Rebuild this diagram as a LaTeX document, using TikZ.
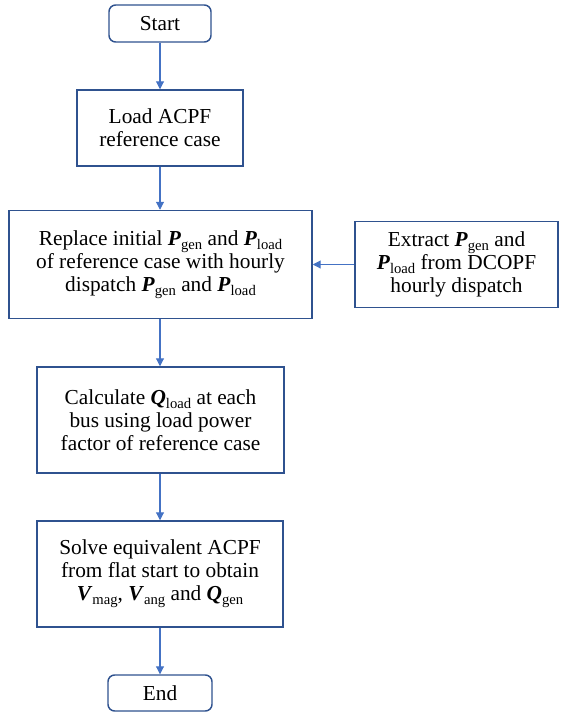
\documentclass[tikz,border=0pt]{standalone}
\usepackage{fontspec}
\setmainfont{Liberation Serif}
\newfontfamily\boxfont{Liberation Serif}
\usetikzlibrary{arrows.meta}
\definecolor{boxline}{RGB}{47,82,143}
\definecolor{flowline}{RGB}{68,114,196}
% bold italic variable with a lowered roman subscript
\newcommand{\var}[2]{\textbf{\textit{#1}}\raisebox{-0.4ex}{\fontsize{11pt}{11pt}\selectfont #2}}
\tikzset{
  procbox/.style={draw=boxline, line width=1.1pt, fill=white, align=center,
    font=\boxfont\fontsize{16pt}{17.2pt}\selectfont, inner sep=2pt},
  termbox/.style={procbox, rounded corners=5pt},
  flow/.style={draw=flowline, line width=0.8pt,
    -{Triangle[length=6pt,width=6pt]}}
}
\begin{document}
\begin{tikzpicture}[x=0.75pt,y=-0.75pt]
\useasboundingbox (0,0) rectangle (560,713);

\node[termbox, minimum width=76.5pt, minimum height=27.75pt] (start) at (160,23.5) {Start};
\node[procbox, minimum width=124.5pt, minimum height=57pt] (load) at (160,128)
  {Load ACPF\\reference case};
\node[procbox, minimum width=227.25pt, minimum height=81pt] (replace) at (160.5,264.5)
  {Replace initial \var{P}{gen} and \var{P}{load}\\of reference case with hourly\\dispatch \var{P}{gen} and \var{P}{load}};
\node[procbox, minimum width=152.25pt, minimum height=64.5pt] (extract) at (456.5,264.5)
  {Extract \var{P}{gen} and\\\var{P}{load} from DCOPF\\hourly dispatch};
\node[procbox, minimum width=185.25pt, minimum height=79.5pt] (calc) at (160.5,420)
  {Calculate \var{Q}{load} at each\\bus using load power\\factor of reference case};
\node[procbox, minimum width=184.5pt, minimum height=79.5pt] (solve) at (160,574)
  {Solve equivalent ACPF\\from flat start to obtain\\\var{V}{mag}, \var{V}{ang} and \var{Q}{gen}};
\node[termbox, minimum width=78pt, minimum height=27pt] (stop) at (160,693) {End};

\draw[flow] (start.south) -- (load.north);
\draw[flow] (load.south) -- (load.south |- replace.north);
\draw[flow] (replace.south -| load.south) -- (load.south |- calc.north);
\draw[flow] (calc.south -| load.south) -- (load.south |- solve.north);
\draw[flow] (solve.south) -- (stop.north);
\draw[flow] (extract.west) -- (replace.east);
\end{tikzpicture}
\end{document}
